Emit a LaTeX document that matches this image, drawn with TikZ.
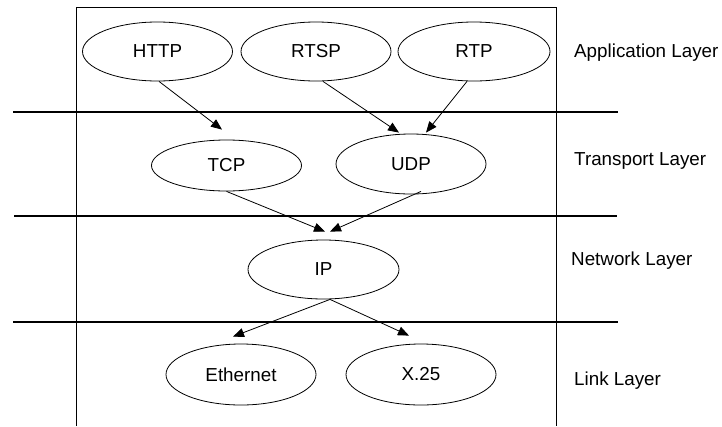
\documentclass[tikz,border=0pt]{standalone}
\usepackage{fontspec}
\setmainfont{Liberation Sans}
\usetikzlibrary{shapes.geometric,arrows.meta,calc}

\tikzset{
  proto/.style={draw, ellipse, line width=0.8pt, inner sep=0pt,
                minimum width=150pt, minimum height=59pt,
                font=\fontsize{18.8}{22}\selectfont},
  layerlabel/.style={anchor=west, inner sep=0pt,
                font=\fontsize{18.8}{22}\selectfont},
  flow/.style={line width=0.8pt, -{Triangle[length=11pt,width=9pt]}},
  divider/.style={line width=2.2pt},
  frame/.style={line width=1pt}
}

\begin{document}
\begin{tikzpicture}[x=1pt,y=-1pt]
  \useasboundingbox (0,0) rectangle (722,426);

  % open frame around the protocol stack
  \coordinate (fbl) at (76,426);
  \coordinate (ftl) at (76,7);
  \coordinate (ftr) at (556,7);
  \coordinate (fbr) at (556,426);
  \draw[frame] (fbl) -- (ftl) -- (ftr) -- (fbr);

  % layer dividers
  \coordinate (d1a) at (13,112);  \coordinate (d1b) at (618,112);
  \coordinate (d2a) at (14,216);  \coordinate (d2b) at (617,216);
  \coordinate (d3a) at (13,322);  \coordinate (d3b) at (618,322);
  \draw[divider] (d1a) -- (d1b);
  \draw[divider] (d2a) -- (d2b);
  \draw[divider] (d3a) -- (d3b);

  % protocols
  \node[proto] (http) at (157.5,51.5) {HTTP};
  \node[proto] (rtsp) at (316,51.5) {RTSP};
  \node[proto, minimum width=152pt] (rtp) at (474,51.5) {RTP};
  \node[proto, minimum height=51pt] (tcp) at (226.5,165.5) {TCP};
  \node[proto, minimum height=60pt] (udp) at (411,164) {UDP};
  \node[proto, minimum width=151pt] (ip) at (323.5,269.5) {IP};
  \node[proto, minimum height=61pt] (eth) at (241,374.5) {Ethernet};
  \node[proto, minimum height=61pt] (x25) at (421,374.5) {X.25};

  % layer names
  \node[layerlabel] (lapp) at (574,53) {Application Layer};
  \node[layerlabel] (ltrn) at (574,161) {Transport Layer};
  \node[layerlabel] (lnet) at (571,261) {Network Layer};
  \node[layerlabel] (llnk) at (574,381) {Link Layer};

  % encapsulation paths
  \draw[flow] ($(http.south)+(1.5,0)$) -- ($(tcp.north)+(-4.5,-10)$);
  \draw[flow] ($(rtsp.south)+(7,0)$) -- ($(udp.north)+(-12,-1)$);
  \draw[flow] ($(rtp.south)+(-7,0)$) -- ($(udp.north)+(15,-1)$);
  \draw[flow] ($(tcp.south)+(0,0)$) -- ($(ip.north)+(1.5,-8)$);
  \draw[flow] ($(udp.south)+(10,-3)$) -- ($(ip.north)+(6.5,-8)$);
  \draw[flow] ($(ip.south)+(6.5,0)$) -- ($(eth.north)+(-8,-7)$);
  \draw[flow] ($(ip.south)+(6.5,0)$) -- ($(x25.north)+(-12,-8)$);
\end{tikzpicture}
\end{document}
